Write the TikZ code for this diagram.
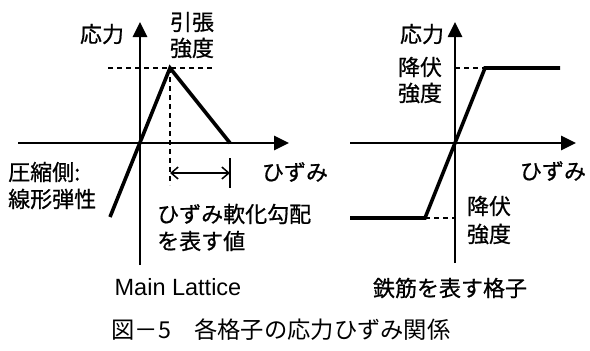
\documentclass[tikz,border=0pt]{standalone}
\usepackage{fontspec}
\setmainfont{Liberation Sans}
\newfontfamily\jp{Noto Sans CJK JP}
\newfontfamily\jpm[FakeBold=0.7]{Noto Sans CJK JP}
\usetikzlibrary{arrows.meta}
\begin{document}
\begin{tikzpicture}[x=1pt,y=-1pt,
  jt/.style={font=\jpm\fontsize{22}{26}\selectfont, inner sep=0pt},
  ct/.style={font=\jp\fontsize{23.3}{26}\selectfont, inner sep=0pt},
  lt/.style={font=\fontsize{23.5}{26}\selectfont, inner sep=0pt},
  axis/.style={line width=2.6pt, -{Triangle[length=15pt,width=14pt]}},
  curve/.style={line width=3.6pt, line join=miter},
  dsh/.style={line width=1.3pt, dash pattern=on 5pt off 4pt},
  thinl/.style={line width=1.5pt}]
\useasboundingbox (0,0) rectangle (590,351);
% ---------- left graph ----------
\coordinate (xl1) at (18,143);
\coordinate (xr1) at (289,143);
\coordinate (yb1) at (140,265);
\coordinate (yt1) at (140,22);
\coordinate (pk) at (170,68);
\coordinate (e1) at (230,143);
\coordinate (c1) at (110,217);
\coordinate (dh1) at (108,68);
\coordinate (dh2) at (213,68);
\coordinate (dv1) at (170,185);
\coordinate (tk1) at (230,158);
\coordinate (tk2) at (230,188);
\coordinate (da1) at (170,173);
\coordinate (da2) at (230,173);
\draw[axis] (xl1) -- (xr1);
\draw[axis] (yb1) -- (yt1);
\draw[dsh] (dh1) -- (dh2);
\draw[dsh] (pk) -- (dv1);
\draw[curve] (c1) -- (pk) -- (e1);
\draw[thinl] (tk1) -- (tk2);
\draw[thinl, {Straight Barb[length=7pt,width=12pt]}-{Straight Barb[length=7pt,width=12pt]}] (da1) -- (da2);
\node[jt] (s1) at (102,34) {応力};
\node[jt] (t1) at (192,22) {引張};
\node[jt] (t2) at (192,48) {強度};
\node[jt, anchor=west] (cp1) at (8,172) {圧縮側:};
\node[jt, anchor=west] (cp2) at (8,199) {線形弾性};
\node[jt] (h1) at (295,172) {ひずみ};
\node[jt, anchor=west] (sf1) at (157,214) {ひずみ軟化勾配};
\node[jt, anchor=west] (sf2) at (157,241) {を表す値};
\node[lt, anchor=base] (ml) at (178,295) {Main Lattice};
% ---------- right graph ----------
\coordinate (xl2) at (350,143);
\coordinate (xr2) at (576,143);
\coordinate (yb2) at (455,263);
\coordinate (yt2) at (455,22);
\coordinate (a1) at (350,218);
\coordinate (a2) at (425,218);
\coordinate (a3) at (485,68);
\coordinate (a4) at (560,68);
\coordinate (oy1) at (455,68);
\coordinate (oy2) at (455,218);
\draw[axis] (xl2) -- (xr2);
\draw[axis] (yb2) -- (yt2);
\draw[dsh] (oy1) -- (a3);
\draw[dsh] (a2) -- (oy2);
\draw[curve] (a1) -- (a2) -- (a3) -- (a4);
\node[jt] (s2) at (422,34) {応力};
\node[jt] (y1) at (420,67) {降伏};
\node[jt] (y2) at (420,93) {強度};
\node[jt] (h2) at (553,171) {ひずみ};
\node[jt] (y3) at (489,206) {降伏};
\node[jt] (y4) at (489,234) {強度};
\node[jt] (rb) at (450,288) {鉄筋を表す格子};
% ---------- caption ----------
\node[ct] (cap) at (281,330) {図－5　各格子の応力ひずみ関係};
\end{tikzpicture}
\end{document}
